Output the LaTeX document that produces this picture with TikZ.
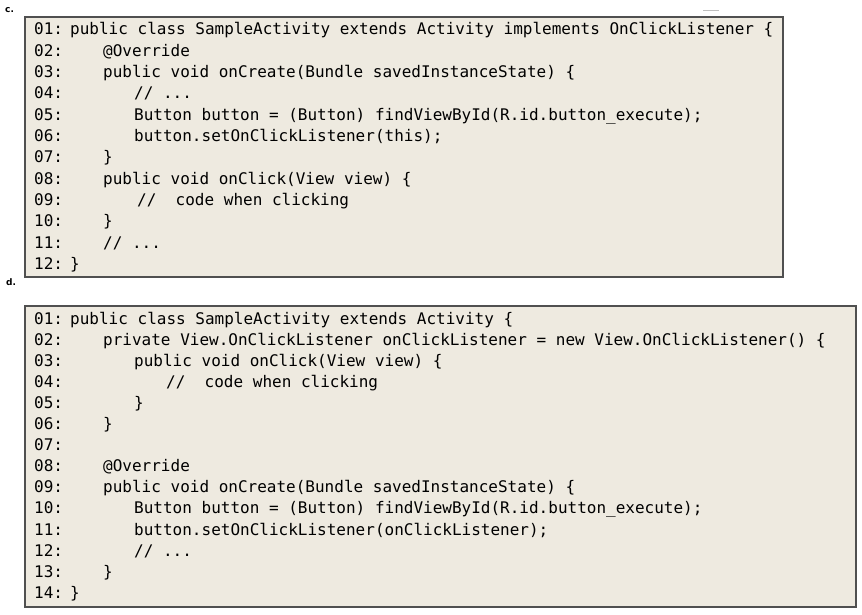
\documentclass[tikz,border=0pt]{standalone}
\usepackage{fontspec}
\setmonofont{DejaVu Sans Mono}
\setsansfont{DejaVu Sans}
\definecolor{codebg}{RGB}{238,234,224}
\definecolor{codeframe}{RGB}{80,80,80}

\begin{document}
\begin{tikzpicture}[x=1pt, y=-1pt,
    codebox/.style={draw=codeframe, fill=codebg, line width=1.1pt},
    ln/.style={anchor=base west, inner sep=0pt, font=\ttfamily\fontsize{16}{20}\selectfont},
    tag/.style={anchor=west, inner sep=0pt, font=\sffamily\bfseries\fontsize{9}{10}\selectfont}]
    \useasboundingbox (0,0) rectangle (862,615);
    \draw[gray!50] (703,10) -- (719,10);

    % listing c
    \node [tag] (tagc) at (5,10) {c.};
    \draw [codebox] (25,17) rectangle (783,277);
    \foreach \n in {1,...,12}
      \node [ln] (cn\n) at (34,{35+(\n-1)*21.3}) {\ifnum\n<10 0\fi\n:};
    \node [ln] (c1) at (70,35) {public class SampleActivity extends Activity implements OnClickListener \{};
    \node [ln] (c2) at (103,56.3) {@Override};
    \node [ln] (c3) at (103,77.6) {public void onCreate(Bundle savedInstanceState) \{};
    \node [ln] (c4) at (134,98.9) {// ...};
    \node [ln] (c5) at (134,120.2) {Button button = (Button) findViewById(R.id.button\_execute);};
    \node [ln] (c6) at (134,141.5) {button.setOnClickListener(this);};
    \node [ln] (c7) at (103,162.8) {\}};
    \node [ln] (c8) at (103,184.1) {public void onClick(View view) \{};
    \node [ln] (c9) at (137,205.4) {//\ \ code when clicking};
    \node [ln] (c10) at (103,226.7) {\}};
    \node [ln] (c11) at (103,248) {// ...};
    \node [ln] (c12) at (70,269.3) {\}};

    % listing d
    \node [tag] (tagd) at (6,282) {d.};
    \draw [codebox] (25,306) rectangle (856,607);
    \foreach \n in {1,...,14}
      \node [ln] (dn\n) at (34,{324+(\n-1)*21.1}) {\ifnum\n<10 0\fi\n:};
    \node [ln] (d1) at (70,324) {public class SampleActivity extends Activity \{};
    \node [ln] (d2) at (103,345.1) {private View.OnClickListener onClickListener = new View.OnClickListener() \{};
    \node [ln] (d3) at (134,366.2) {public void onClick(View view) \{};
    \node [ln] (d4) at (166,387.3) {//\ \ code when clicking};
    \node [ln] (d5) at (134,408.4) {\}};
    \node [ln] (d6) at (103,429.5) {\}};
    \node [ln] (d8) at (103,471.7) {@Override};
    \node [ln] (d9) at (103,492.8) {public void onCreate(Bundle savedInstanceState) \{};
    \node [ln] (d10) at (134,513.9) {Button button = (Button) findViewById(R.id.button\_execute);};
    \node [ln] (d11) at (134,535) {button.setOnClickListener(onClickListener);};
    \node [ln] (d12) at (134,556.1) {// ...};
    \node [ln] (d13) at (103,577.2) {\}};
    \node [ln] (d14) at (70,598.3) {\}};
\end{tikzpicture}
\end{document}
